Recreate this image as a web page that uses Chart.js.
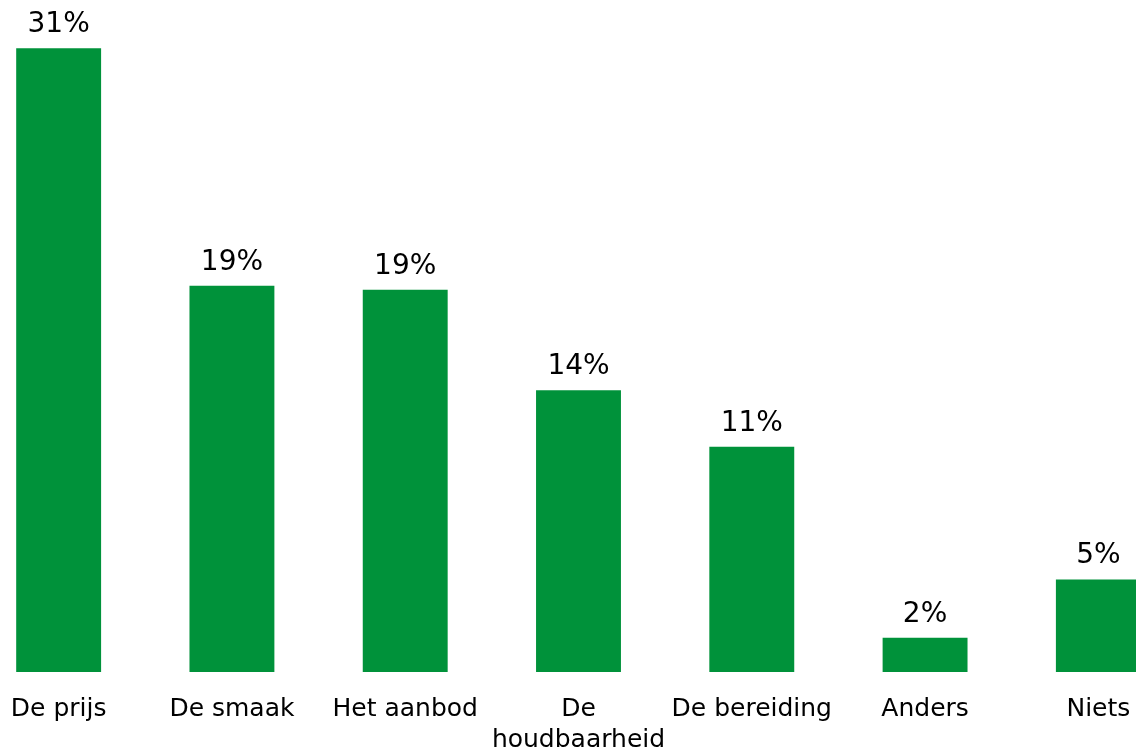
<!DOCTYPE html>
<html>
<head>
<meta charset="utf-8">
<script src="https://cdn.jsdelivr.net/npm/chart.js@4/dist/chart.umd.min.js"></script>
<style>
  html, body { margin: 0; padding: 0; background: #fff; overflow: hidden; }
  /* plot runs a little past both window edges, like the source */
  #wrap { position: absolute; left: -28px; top: 0; width: 1213px; height: 751px; }
</style>
</head>
<body>
<div id="wrap"><canvas id="myBarChart"></canvas></div>
<script>
// categorieën en waarden (in %)
const categories = ['De prijs', 'De smaak', 'Het aanbod', ['De', 'houdbaarheid'], 'De bereiding', 'Anders', 'Niets'];
const shares = [31, 19.2, 19.0, 14.0, 11.2, 1.7, 4.6];

const fontFamily = '"DejaVu Sans", Verdana, sans-serif';

// percentage boven elke balk
const valueLabels = {
    id: 'valueLabels',
    afterDatasetsDraw(chart) {
        const ctx = chart.ctx;
        const meta = chart.getDatasetMeta(0);
        ctx.save();
        ctx.font = '28px ' + fontFamily;
        ctx.fillStyle = '#000';
        ctx.textAlign = 'center';
        ctx.textBaseline = 'alphabetic';
        meta.data.forEach(function(bar, i) {
            ctx.fillText(Math.round(shares[i]) + '%', bar.x, bar.y - 16);
        });
        ctx.restore();
    }
};

new Chart(document.getElementById('myBarChart'), {
    type: 'bar',
    data: {
        labels: categories,
        datasets: [{
            data: shares,
            backgroundColor: '#00923A',
            barPercentage: 0.49,
            categoryPercentage: 1
        }]
    },
    options: {
        responsive: true,
        maintainAspectRatio: false,
        animation: false,
        layout: { padding: 0 },
        plugins: {
            legend: { display: false },
            tooltip: { enabled: false }
        },
        scales: {
            x: {
                grid: { display: false, drawTicks: false },
                border: { display: false },
                afterFit: function(scale) { scale.height = 79; },
                ticks: {
                    color: '#000',
                    autoSkip: false,
                    maxRotation: 0,
                    padding: 22,
                    font: { family: fontFamily, size: 25, lineHeight: 1.24 }
                }
            },
            y: {
                display: false,
                min: 0,
                max: 33.4
            }
        }
    },
    plugins: [valueLabels]
});
</script>
</body>
</html>
